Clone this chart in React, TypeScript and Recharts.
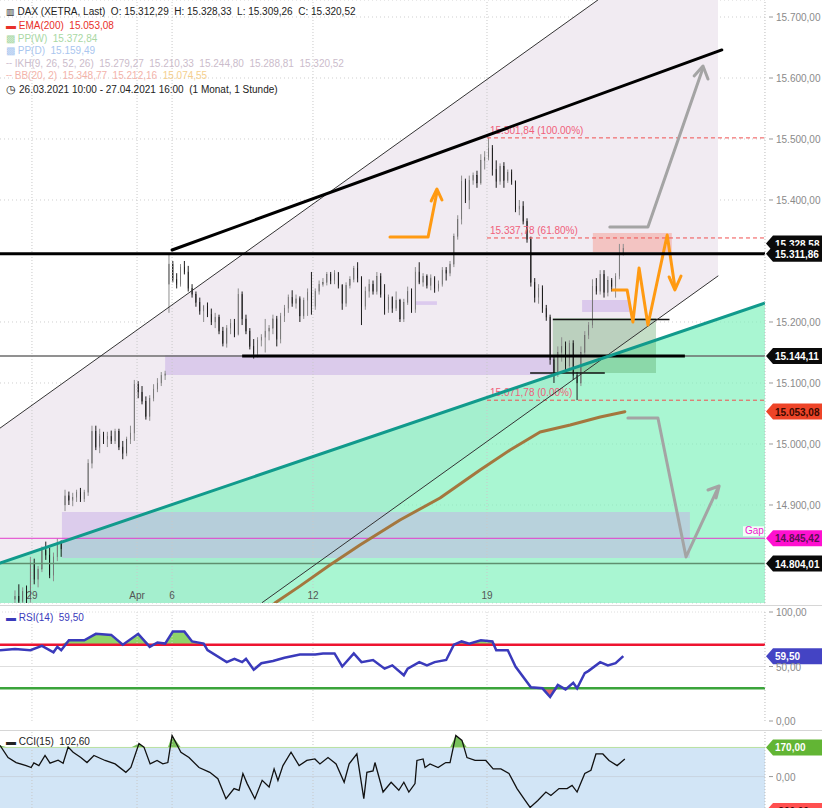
import React from 'react';
import { ComposedChart, Bar, Line, Area, XAxis, YAxis, ReferenceLine, ReferenceArea, CartesianGrid } from 'recharts';

const FONT = '"Liberation Sans", Arial, sans-serif';

// ---------- price data (hourly candles, O H L C) ----------
const ohlc: number[][] = [
  [14745,14760,14730,14750],[14750,14770,14735,14742],[14742,14765,14735,14758],[14758,14768,14738,14745],
  [14745,14815,14740,14805],[14805,14812,14770,14778],[14778,14800,14765,14795],[14795,14832,14790,14825],
  [14825,14840,14810,14818],[14818,14830,14780,14785],[14785,14822,14775,14815],[14815,14845,14808,14838],
  [14838,14842,14815,14828],[14900,14925,14890,14915],[14915,14922,14900,14908],[14908,14920,14898,14912],
  [14912,14925,14905,14920],[14920,14928,14905,14910],[14910,14925,14905,14920],[14920,14975,14915,14968],
  [14968,15030,14960,15020],[15020,15030,14990,14995],[14995,15025,14985,15015],[15015,15020,15000,15008],
  [15008,15020,14995,15012],[15012,15022,15000,15005],[15005,15025,15000,15020],[15020,15025,14990,14995],
  [14995,15005,14975,14985],[14985,15012,14980,15008],[15008,15030,15000,15018],[15018,15105,15005,15098],
  [15098,15103,15075,15085],[15085,15095,15065,15070],[15070,15078,15040,15045],[15045,15080,15038,15075],
  [15075,15098,15070,15090],[15090,15108,15085,15100],[15100,15118,15095,15112],[15112,15120,15105,15115],
  [15262,15312,15215,15295],[15295,15300,15265,15270],[15270,15280,15255,15262],[15262,15295,15258,15290],
  [15290,15300,15278,15282],[15282,15292,15250,15255],[15255,15262,15240,15245],[15245,15250,15225,15232],
  [15232,15240,15212,15218],[15218,15228,15200,15225],[15225,15232,15208,15212],[15212,15222,15195,15200],
  [15200,15215,15190,15208],[15208,15212,15180,15185],[15185,15192,15160,15165],[15165,15195,15158,15190],
  [15190,15205,15180,15198],[15198,15205,15175,15180],[15180,15255,15178,15245],[15245,15250,15195,15205],
  [15205,15212,15180,15185],[15185,15190,15155,15160],[15160,15172,15140,15148],[15148,15175,15142,15170],
  [15170,15180,15160,15175],[15175,15205,15150,15185],[15185,15195,15170,15190],[15190,15212,15180,15205],
  [15205,15210,15160,15172],[15172,15215,15165,15210],[15210,15228,15200,15222],[15222,15245,15215,15240],
  [15240,15252,15225,15230],[15230,15245,15222,15238],[15238,15242,15200,15210],[15210,15240,15205,15235],
  [15235,15255,15210,15248],[15248,15282,15212,15225],[15225,15255,15220,15250],[15250,15268,15245,15262],
  [15262,15272,15258,15265],[15265,15282,15260,15278],[15278,15282,15262,15268],[15268,15285,15262,15280],
  [15280,15282,15255,15260],[15260,15262,15220,15230],[15230,15265,15225,15260],[15260,15275,15255,15270],
  [15270,15292,15265,15288],[15288,15298,15265,15272],[15272,15275,15195,15225],[15225,15258,15220,15250],
  [15250,15270,15240,15262],[15262,15268,15245,15250],[15250,15282,15245,15275],[15275,15280,15240,15245],
  [15245,15262,15212,15220],[15220,15245,15215,15240],[15240,15242,15215,15222],[15222,15250,15218,15235],
  [15235,15238,15200,15205],[15205,15238,15200,15232],[15232,15258,15228,15250],[15250,15255,15215,15220],
  [15220,15290,15215,15282],[15282,15298,15262,15265],[15265,15280,15258,15275],[15275,15278,15255,15260],
  [15260,15278,15252,15272],[15272,15275,15248,15255],[15255,15268,15250,15262],[15262,15290,15258,15285],
  [15285,15290,15268,15280],[15280,15300,15275,15295],[15295,15345,15290,15340],[15340,15375,15335,15368],
  [15368,15440,15360,15430],[15430,15435,15395,15400],[15400,15440,15385,15432],[15432,15445,15425,15440],
  [15440,15448,15420,15428],[15428,15475,15425,15465],[15465,15480,15450,15470],[15470,15502,15465,15485],
  [15485,15490,15440,15450],[15450,15465,15420,15430],[15430,15460,15425,15455],[15455,15462,15420,15432],
  [15432,15450,15428,15445],[15445,15450,15425,15430],[15430,15432,15380,15385],[15385,15400,15375,15390],
  [15390,15398,15360,15365],[15365,15370,15330,15335],[15335,15340,15258,15265],[15265,15272,15232,15240],
  [15240,15262,15230,15255],[15255,15260,15215,15222],[15222,15228,15202,15208],[15208,15212,15130,15138],
  [15138,15145,15100,15115],[15115,15160,15110,15150],[15150,15175,15135,15160],[15160,15168,15120,15128],
  [15128,15170,15120,15165],[15165,15170,15105,15112],[15112,15118,15072,15100],[15100,15160,15095,15150],
  [15150,15185,15145,15178],[15178,15200,15172,15195],[15195,15270,15190,15258],[15258,15272,15245,15250],
  [15250,15285,15245,15278],[15278,15285,15240,15248],[15248,15275,15242,15268],[15268,15272,15250,15258],
  [15258,15280,15240,15275],[15275,15328,15270,15312],[15312,15328,15309,15320],
];

// RSI(14): [time index, value]
const rsiPoints: number[][] = [
  [-3.9,65],[0,66],[4,65],[7,69],[10,63],[11,68],[12,65],[14,74],[18,74],[21,80],[25,79],[28,70],
  [32,80],[35,68],[37,72],[39,71],[41,82],[44,82],[46,73],[49,71],[50,65],[55,54],[57,57],[59,54],
  [60,57],[62,47],[64,53],[67,55],[70,58],[74,61],[78,61],[80,62],[83,62],[85,50],[88,62],[90,54],
  [93,56],[96,48],[98,51],[101,42],[102,48],[105,54],[107,51],[109,54],[112,56],[114,70],[116,73],
  [118,71],[121,74],[124,73],[125,65],[128,65],[130,50],[134,31],[137,30],[139,22],[141,33],[143,29],
  [145,35],[146,30],[148,44],[149,46],[152,54],[154,51],[156,53],[158,59.5],
];

// CCI(15): [time index, value]
const cciPoints: number[][] = [
  [-3.9,182],[-1.8,111],[0.3,82],[2.9,64],[4.2,53],[4.9,80],[6.2,64],[7.8,123],[9.1,78],[11.2,96],
  [12.5,78],[13.8,172],[15.1,142],[17.1,111],[18.7,82],[20.5,123],[23.4,94],[26,74],[28.8,25],[30.1,53],
  [32.2,193],[33.5,172],[35.1,74],[36.9,94],[38.4,74],[39.7,82],[40.8,240],[43.1,142],[45.2,111],[47.8,53],
  [50.6,25],[52.7,-12],[54.8,-129],[56.9,-70],[58.2,-80],[59.2,18],[60.3,-41],[62.3,-129],[64.2,-22],[66,-61],
  [67.3,45],[68.3,-22],[69.6,64],[71.7,142],[73.8,64],[75.8,94],[77.9,103],[79.2,74],[81.3,111],[83.4,74],
  [85.5,-33],[86.8,74],[88.8,132],[90.6,-129],[91.4,25],[93,33],[93.5,82],[95.6,-90],[97.7,-33],[99.7,-80],
  [101,-33],[102.3,-90],[103.9,-41],[104.4,94],[106,103],[106.5,53],[107.8,74],[109.9,53],[111.9,82],[113,82],
  [114.5,240],[116.1,211],[117.4,111],[119.5,94],[122.3,94],[124.2,45],[126.2,45],[128.3,18],[130.4,-70],[132.5,-139],
  [133.8,-180],[135.8,-139],[137.9,-90],[139.2,-110],[141.3,-70],[143.4,-70],[144.7,-51],[146,-90],[148,18],[149.6,37],
  [150.9,132],[152.7,132],[154.3,94],[156.4,64],[158.4,102.6],
];

// time axis
const dayTicks = [4.4, 31.7, 40.8, 77.4, 122.6];
const dayLabels = ['29', 'Apr', '6', '12', '19'];
const priceTicks = [14900, 15000, 15100, 15200, 15400, 15500, 15600, 15700];

// drawing annotations: [time index, price]
const channelBand: number[][] = [[-3.9, 14739.3, 15026], [64.2, 14739.3, 15333.8], [151.4, 15134.3, 15727.9], [182.6, 15275.4, 15727.9]];
const channelUpper: number[][] = [[-3.9, 15026], [151.4, 15727.9]];
const channelLower: number[][] = [[64.2, 14740], [182.6, 15275.4]];
const tealLine: number[][] = [[-3.9, 14804.9], [194.8, 15231.1]];
const resistance: number[][] = [[40.8, 15318], [183.6, 15646]];
const ema200: number[][] = [[67.5, 14739.3], [74, 14767], [81.8, 14801.6], [89.6, 14834.4], [100, 14875.4], [110.4, 14911.5], [120.8, 14957.4], [128.6, 14990.2], [136.4, 15019.7], [144.2, 15031.1], [152, 15044.3], [158.4, 15053]];
const orangeA: number[][] = [[97.4, 15339.3], [107.3, 15339.3], [109.6, 15413]];
const orangeAHead: number[][] = [[108.1, 15398.4], [109.6, 15418], [110.9, 15400]];
const orangeB: number[][] = [[155.3, 15252.5], [159, 15252.5], [160.5, 15200], [162.1, 15288.5], [164.4, 15195.1], [169.4, 15342.6], [171.4, 15257.4]];
const orangeBHead: number[][] = [[169.9, 15273.8], [171.4, 15252.5], [173, 15275.4]];
const grayA: number[][] = [[154.5, 15355.7], [164.4, 15355.7], [178.7, 15616.4]];
const grayAHead: number[][] = [[176.4, 15603.3], [178.7, 15619.7], [180, 15598.4]];
const grayB: number[][] = [[159.2, 15042.6], [167, 15042.6], [174.3, 14814.8], [182.6, 14927.9]];
const grayBHead: number[][] = [[180, 14924.6], [182.9, 14931.1], [182.1, 14911.5]];

const candles = ohlc.map((r, i) => ({ t: i, o: r[0], h: r[1], l: r[2], c: r[3] }));
const rsiData = rsiPoints.map(([t, v]) => ({ t, v }));
const cciData = cciPoints.map(([t, v]) => ({ t, v }));
const pts = (a: number[][]) => a.map(([t, p]) => ({ t, p }));
const bandData = channelBand.map(([t, lo, hi]) => ({ t, r: [lo, hi] }));

const X_DOMAIN: [number, number] = [-3.896, 194.81];
const P_DOMAIN: [number, number] = [14739.34, 15727.87];

const fmt = (v: number) => {
  const neg = v < 0;
  const s = Math.abs(v).toFixed(2);
  const [i, d] = s.split('.');
  const ii = i.replace(/\B(?=(\d{3})+(?!\d))/g, '.');
  return (neg ? '-' : '') + ii + ',' + d;
};

const Candle = (props: any) => {
  const { x, y, width, height, payload } = props;
  if (!payload) return null;
  const y0 = Math.min(y, y + height);
  const hh = Math.abs(height);
  const { o, h, l, c } = payload;
  const range = h - l || 1;
  const yOf = (v: number) => y0 + ((h - v) / range) * hh;
  const up = c >= o;
  const color = up ? '#8e8e8e' : '#1c1c1c';
  const cx = x + width / 2;
  const top = yOf(Math.max(o, c));
  const bot = yOf(Math.min(o, c));
  return (
    <g>
      <line x1={cx} x2={cx} y1={y0} y2={y0 + hh} stroke={color} strokeWidth={1} />
      <rect x={x} y={top} width={width} height={Math.max(1, bot - top)} fill={color} stroke={up ? '#555' : '#111'} strokeWidth={0.4} />
    </g>
  );
};

const AxisTick = (props: any) => {
  const { y, payload } = props;
  return (
    <g>
      <line x1={769} x2={773} y1={y} y2={y} stroke="#9a9a9a" />
      <text x={776} y={y + 4} fontSize={10} fill="#8a8a8a" fontFamily={FONT}>{fmt(payload.value)}</text>
    </g>
  );
};

const tag = (text: string, fill: string, color: string, extra?: string) => (props: any) => {
  const vb = props.viewBox || {};
  const y = vb.y;
  const x0 = 765;
  return (
    <g>
      {extra ? (
        <g>
          <rect x={x0 - 22} y={y - 12} width={21} height={10} fill="#fff" opacity={0.85} />
          <text x={x0 - 20} y={y - 4} fontSize={10} fill="#ee22cc" fontFamily={FONT}>{extra}</text>
        </g>
      ) : null}
      <polygon points={`${x0 + 1},${y} ${x0 + 8},${y - 8} ${x0 + 57},${y - 8} ${x0 + 57},${y + 8} ${x0 + 8},${y + 8}`} fill={fill} />
      <text x={x0 + 10} y={y + 4} fontSize={10} fontWeight="bold" fill={color} fontFamily={FONT}>{text}</text>
    </g>
  );
};

const fibLabel = (text: string) => (props: any) => {
  const vb = props.viewBox || {};
  return <text x={vb.x + 3} y={vb.y - 4} fontSize={10} fill="#f0607a" fontFamily={FONT}>{text}</text>;
};

const dayLabel = (text: string, y: number) => (props: any) => {
  const vb = props.viewBox || {};
  return <text x={vb.x} y={y} textAnchor="middle" fontSize={10} fill="#555" fontFamily={FONT}>{text}</text>;
};

const polyline = (data: number[][], stroke: string, width: number, key: string) => (
  <Line key={key} data={pts(data)} dataKey="p" type="linear" stroke={stroke} strokeWidth={width} dot={false}
    isAnimationActive={false} strokeLinecap="round" strokeLinejoin="round" legendType="none" />
);

const Legend = () => {
  const row = (top: number, children: React.ReactNode) => (
    <div style={{ position: 'absolute', left: 6, top, fontSize: 10, fontFamily: FONT, whiteSpace: 'nowrap', lineHeight: '12px' }}>{children}</div>
  );
  return (
    <>
      {row(6, <span style={{ color: '#222' }}><span style={{ fontSize: 9 }}>▥ </span>DAX (XETRA, Last)&nbsp; O: 15.312,29&nbsp; H: 15.328,33&nbsp; L: 15.309,26&nbsp; C: 15.320,52</span>)}
      {row(20, <span style={{ color: '#e8302a' }}><span style={{ fontWeight: 'bold' }}>▬ </span>EMA(200)&nbsp; 15.053,08</span>)}
      {row(33, <span style={{ color: '#a9d8a4' }}><span>▩ </span>PP(W)&nbsp; 15.372,84</span>)}
      {row(45, <span style={{ color: '#a9c6ef' }}><span>▩ </span>PP(D)&nbsp; 15.159,49</span>)}
      {row(58, <span style={{ color: '#cbbccb' }}><span>╌ </span>IKH(9, 26, 52, 26)&nbsp; 15.279,27&nbsp; 15.210,33&nbsp; 15.244,80&nbsp; 15.288,81&nbsp; 15.320,52</span>)}
      {row(70, <span style={{ color: '#f3b3aa' }}><span>╌ </span>BB(20, 2)&nbsp; 15.348,77&nbsp; 15.212,16&nbsp; <span style={{ color: '#f5cf8e' }}>15.074,55</span></span>)}
      {row(83, <span style={{ color: '#222' }}><span style={{ fontSize: 11 }}>◷ </span>26.03.2021 10:00 - 27.04.2021 16:00&nbsp; (1 Monat, 1 Stunde)</span>)}
    </>
  );
};

export default function App() {
  return (
    <div style={{ position: 'absolute', left: 0, top: 0, width: 822, height: 808, background: '#fff', overflow: 'hidden' }}>
      {/* main price panel */}
      <div style={{ position: 'absolute', left: 0, top: 0 }}>
        <ComposedChart width={822} height={605} data={candles} margin={{ top: 0, right: 0, bottom: 2, left: 0 }}>
          <CartesianGrid vertical={false} stroke="#cfcfcf" strokeDasharray="1 3" />
          <XAxis dataKey="t" type="number" domain={X_DOMAIN} allowDataOverflow hide />
          <YAxis orientation="right" domain={P_DOMAIN} allowDataOverflow ticks={priceTicks} width={57}
            axisLine={false} tickLine={false} tickSize={0} tick={<AxisTick />} interval={0} />
          {dayTicks.map((t, i) => (
            <ReferenceLine key={'d' + i} x={t} stroke="#c9c9c9" strokeDasharray="1 2" label={dayLabel(dayLabels[i], 599)} />
          ))}
          <Area data={bandData} dataKey="r" type="linear" stroke="none" fill="#f1ebf2" fillOpacity={1} isAnimationActive={false} />
          <Bar dataKey={(d: any) => [d.l, d.h]} barSize={3} shape={<Candle />} isAnimationActive={false} />
          <Area data={pts(tealLine)} dataKey="p" type="linear" baseValue={P_DOMAIN[0]} stroke="none" fill="#7df2ba" fillOpacity={0.66} isAnimationActive={false} />
          <ReferenceArea x1={12.2} x2={175.3} y1={14813} y2={14888.5} fill="#c7aee6" fillOpacity={0.5} stroke="none" ifOverflow="hidden" />
          <ReferenceArea x1={39} x2={140.3} y1={15113.1} y2={15145.9} fill="#c9b0e6" fillOpacity={0.55} stroke="none" ifOverflow="hidden" />
          <ReferenceArea x1={147.3} x2={159.7} y1={15216.4} y2={15236} fill="#cdb3e8" fillOpacity={0.6} stroke="none" ifOverflow="hidden" />
          <ReferenceArea x1={104} x2={109.6} y1={15228} y2={15234} fill="#d3bcec" fillOpacity={0.7} stroke="none" ifOverflow="hidden" />
          <ReferenceArea x1={139.7} x2={166.5} y1={15116.4} y2={15206.6} fill="#4f9a55" fillOpacity={0.33} stroke="none" ifOverflow="hidden" />
          <ReferenceArea x1={150.1} x2={170.6} y1={15314.8} y2={15346} fill="#f4a49a" fillOpacity={0.55} stroke="none" ifOverflow="hidden" />
          <ReferenceLine y={14804.01} stroke="#5f8f6f" strokeWidth={1.5} label={tag('14.804,01', '#0a0a0a', '#fff')} />
          <ReferenceLine y={14845.42} stroke="#e23ccc" strokeWidth={1} label={tag('14.845,42', '#ff10d0', '#5a1050', 'Gap')} />
          <ReferenceLine y={15144.11} stroke="#6d6d6d" strokeWidth={1.5} label={tag('15.144,11', '#0a0a0a', '#fff')} />
          <ReferenceLine segment={[{ x: 59, y: 15144.11 }, { x: 174, y: 15144.11 }]} stroke="#000" strokeWidth={3} />
          <ReferenceLine segment={[{ x: 139.7, y: 15204 }, { x: 170, y: 15204 }]} stroke="#111" strokeWidth={1.5} />
          <ReferenceLine segment={[{ x: 133.8, y: 15116.4 }, { x: 153.2, y: 15116.4 }]} stroke="#111" strokeWidth={1.5} />
          <ReferenceLine segment={[{ x: 122.6, y: 15501.84 }, { x: 194.8, y: 15501.84 }]} stroke="#f05050" strokeDasharray="4 3" label={fibLabel('15.501,84 (100.00%)')} />
          <ReferenceLine segment={[{ x: 122.6, y: 15337.78 }, { x: 194.8, y: 15337.78 }]} stroke="#f05050" strokeDasharray="4 3" label={fibLabel('15.337,78 (61.80%)')} />
          <ReferenceLine segment={[{ x: 122.6, y: 15071.78 }, { x: 194.8, y: 15071.78 }]} stroke="#f05050" strokeDasharray="4 3" label={fibLabel('15.071,78 (0.00%)')} />
          {polyline(channelUpper, '#333', 1, 'cu')}
          {polyline(channelLower, '#333', 1, 'cl')}
          {polyline(ema200, '#a4773e', 3, 'ema')}
          {polyline(tealLine, '#119a8c', 3, 'teal')}
          {polyline(resistance, '#000', 3, 'res')}
          {polyline(orangeA, '#ff9a12', 3, 'oa')}
          {polyline(orangeAHead, '#ff9a12', 3, 'oah')}
          {polyline(orangeB, '#ff9a12', 3, 'ob')}
          {polyline(orangeBHead, '#ff9a12', 3, 'obh')}
          {polyline(grayA, '#a4a4a4', 3, 'ga')}
          {polyline(grayAHead, '#a4a4a4', 3, 'gah')}
          {polyline(grayB, '#a4a4a4', 3, 'gb')}
          {polyline(grayBHead, '#a4a4a4', 3, 'gbh')}
          <ReferenceLine y={15311.86} stroke="#000" strokeWidth={3} />
          <ReferenceLine y={15328.58} stroke="none" label={tag('15.328,58', '#0a0a0a', '#fff')} />
          <ReferenceLine y={15311.86} stroke="none" label={tag('15.311,86', '#0a0a0a', '#fff')} />
          <ReferenceLine y={15053.08} stroke="none" label={tag('15.053,08', '#ee4428', '#3a0a00')} />
          <ReferenceLine x={194.8} stroke="#bbb" strokeDasharray="1 2" />
        </ComposedChart>
      </div>

      {/* RSI panel */}
      <div style={{ position: 'absolute', left: 0, top: 605, width: 822, height: 125, borderTop: '1px solid #d6d6d6', boxSizing: 'border-box' }}>
        <ComposedChart width={822} height={124} data={rsiData} margin={{ top: 6, right: 0, bottom: 9, left: 0 }}>
          <XAxis dataKey="t" type="number" domain={X_DOMAIN} allowDataOverflow hide />
          <YAxis orientation="right" domain={[0, 100]} allowDataOverflow ticks={[0, 50, 100]} width={57}
            axisLine={false} tickLine={false} tickSize={0} tick={<AxisTick />} interval={0} />
          {dayTicks.map((t, i) => (
            <ReferenceLine key={'rd' + i} x={t} stroke="#d0d0d0" strokeDasharray="1 2" />
          ))}
          <ReferenceLine y={50} stroke="#dedede" />
          <ReferenceLine y={100} stroke="#dedede" strokeDasharray="1 2" />
          <Area dataKey={(d: any) => [70, Math.max(70, d.v)]} type="linear" stroke="none" fill="#8fd46a" fillOpacity={1} isAnimationActive={false} />
          <Area dataKey={(d: any) => [Math.min(30, d.v), 30]} type="linear" stroke="none" fill="#e86a6a" fillOpacity={1} isAnimationActive={false} />
          <ReferenceLine y={70} stroke="#ee1430" strokeWidth={2.5} />
          <ReferenceLine y={30} stroke="#3ba43b" strokeWidth={2.5} />
          <Line dataKey="v" type="linear" stroke="#3a3abb" strokeWidth={2.5} dot={false} isAnimationActive={false} />
          <ReferenceLine y={59.5} stroke="none" label={tag('59,50', '#4444c4', '#fff')} />
          <ReferenceLine x={194.8} stroke="#bbb" strokeDasharray="1 2" />
        </ComposedChart>
        <div style={{ position: 'absolute', left: 6, top: 6, fontSize: 10, fontFamily: FONT, color: '#3a3abb', whiteSpace: 'nowrap' }}>
          <span style={{ fontWeight: 'bold' }}>▬ </span>RSI(14)&nbsp; 59,50
        </div>
      </div>

      {/* CCI panel */}
      <div style={{ position: 'absolute', left: 0, top: 730, width: 822, height: 78, borderTop: '1px solid #d6d6d6', boxSizing: 'border-box' }}>
        <ComposedChart width={822} height={77} data={cciData} margin={{ top: 0, right: 0, bottom: 0, left: 0 }}>
          <XAxis dataKey="t" type="number" domain={X_DOMAIN} allowDataOverflow hide />
          <YAxis orientation="right" domain={[-183.2, 265.9]} allowDataOverflow ticks={[0]} width={57}
            axisLine={false} tickLine={false} tickSize={0} tick={<AxisTick />} interval={0} />
          <ReferenceArea y1={-200} y2={170} fill="#d2e5f6" fillOpacity={1} stroke="none" ifOverflow="hidden" />
          {dayTicks.map((t, i) => (
            <ReferenceLine key={'cd' + i} x={t} stroke="#c8c8c8" strokeDasharray="1 2" />
          ))}
          <ReferenceLine y={0} stroke="#c8d4e0" />
          <Area dataKey={(d: any) => [170, Math.max(170, d.v)]} type="linear" stroke="none" fill="#79c25a" fillOpacity={1} isAnimationActive={false} />
          <ReferenceLine y={170} stroke="#b8e0a0" />
          <Line dataKey="v" type="linear" stroke="#111" strokeWidth={1.3} dot={false} isAnimationActive={false} />
          <ReferenceLine y={170} stroke="none" label={tag('170,00', '#62b534', '#fff')} />
          <ReferenceLine y={-200} stroke="none" ifOverflow="visible" label={tag('-200,00', '#ff5050', '#400')} />
          <ReferenceLine x={194.8} stroke="#bbb" strokeDasharray="1 2" />
        </ComposedChart>
        <div style={{ position: 'absolute', left: 6, top: 5, fontSize: 10, fontFamily: FONT, color: '#222', whiteSpace: 'nowrap' }}>
          <span style={{ fontWeight: 'bold' }}>▬ </span>CCI(15)&nbsp; 102,60
        </div>
      </div>

      <Legend />
    </div>
  );
}
